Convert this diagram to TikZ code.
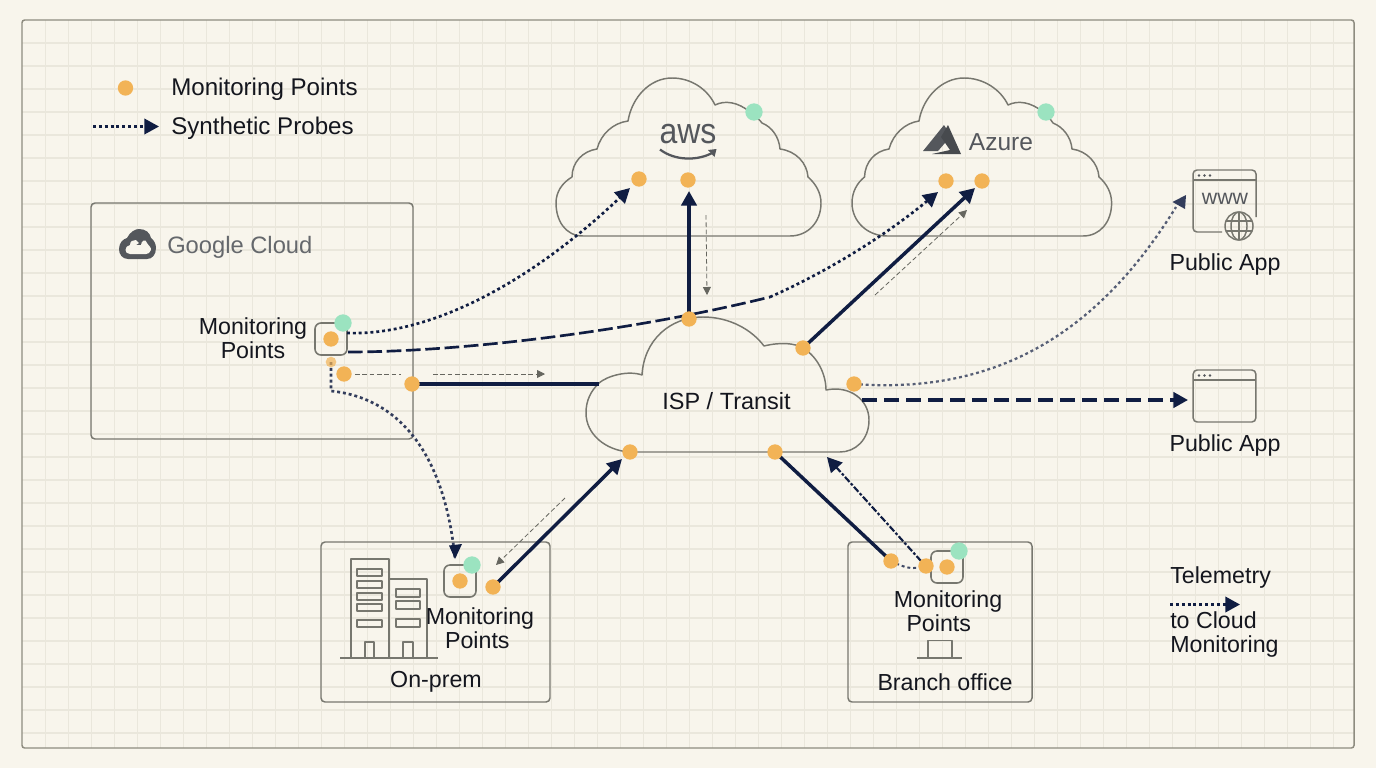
\documentclass[tikz,border=0pt]{standalone}
\usepackage{fontspec}
\usepackage{graphicx}
\setmainfont{Liberation Sans}
\usetikzlibrary{arrows.meta}
\pgfdeclarelayer{top}
\pgfsetlayers{main,top}
\definecolor{paper}{HTML}{F8F5EC}
\definecolor{gridc}{HTML}{EAE7DC}
\definecolor{framec}{HTML}{8E8C80}
\definecolor{linec}{HTML}{77776F}
\definecolor{ink}{HTML}{14161E}
\definecolor{navy}{HTML}{101D42}
\definecolor{orangec}{HTML}{F2B356}
\definecolor{mint}{HTML}{9BE3C0}
\definecolor{logoc}{HTML}{54575C}
\definecolor{thinc}{HTML}{66665F}
\tikzset{
  x=0.75pt,y=-0.75pt,
  gridline/.style={gridc,line width=0.8pt},
  outline/.style={linec,line width=1.1pt,line join=round},
  boxr/.style={outline,rounded corners=3pt},
  mon/.style={draw=linec,line width=1.2pt,rounded corners=4.5pt,minimum size=24pt,inner sep=0pt},
  dotn/.style={circle,fill=orangec,minimum size=11.5pt,inner sep=0pt},
  mintn/.style={circle,fill=mint,minimum size=13pt,inner sep=0pt},
  lab/.style={font=\fontsize{17.4}{18}\selectfont,text=ink,inner sep=0pt,align=center},
  leg/.style={font=\fontsize{18.1}{18}\selectfont,text=ink,inner sep=0pt,anchor=west},
  tipb/.style={-{Triangle[length=11pt,width=11.5pt]}},
  solidc/.style={navy,line width=2.6pt},
  dotc/.style={navy,line width=2pt,dash pattern=on 2.2pt off 2.2pt},
  dashc/.style={navy,line width=2pt,dash pattern=on 11pt off 3.5pt},
  thinc1/.style={thinc,line width=0.6pt,dash pattern=on 3.5pt off 2pt,-{Triangle[length=6pt,width=6pt]}},
}
\begin{document}
\begin{tikzpicture}
\useasboundingbox (0,0) rectangle (1376,768);
\fill[paper] (0,0) rectangle (1376,768);
% grid
\foreach \gx in {45.7,68.7,...,1350}{\draw[gridline] (\gx,20) -- (\gx,748);}
\foreach \gy in {43,66,...,745}{\draw[gridline] (22,\gy) -- (1354,\gy);}
\draw[framec,line width=1.1pt,rounded corners=2pt] (22,20) rectangle (1354,748);

% clouds
\draw[outline] (583,236) .. controls (565,236) and (556,220) .. (556,203) .. controls (556,192) and (562,183) .. (572,177)
 .. controls (572,162) and (583,151) .. (597,149) .. controls (601,134) and (613,123) .. (628,121)
 .. controls (632,97) and (650,78) .. (672,78) .. controls (692,78) and (708,90) .. (715,105)
 .. controls (725,100) and (738,102) .. (750,112) .. controls (755,116) and (760,120) .. (762,123)
 .. controls (772,127) and (779,137) .. (780,149) .. controls (796,151) and (807,163) .. (808,177)
 .. controls (816,184) and (821,193) .. (821,203) .. controls (821,222) and (808,236) .. (790,236) -- cycle;
\draw[outline] (887,236) .. controls (868,236) and (852,222) .. (852,203) .. controls (852,192) and (857,183) .. (864.5,177)
 .. controls (865,162) and (875,151) .. (889,149) .. controls (893,134) and (905,123) .. (919,121)
 .. controls (923,97) and (942,78) .. (964,78) .. controls (984,78) and (1001,90) .. (1008,105)
 .. controls (1018,100) and (1031,102) .. (1043,112) .. controls (1048,116) and (1051,120) .. (1053,123)
 .. controls (1063,127) and (1071,137) .. (1072,149) .. controls (1087,151) and (1098,163) .. (1099,177)
 .. controls (1107,184) and (1111.6,193) .. (1111.6,203) .. controls (1111.6,222) and (1100,236) .. (1083,236) -- cycle;
\draw[outline] (629,452) .. controls (605,450) and (586,434) .. (586,413) .. controls (586,400) and (591,391) .. (599,383)
 .. controls (607,376) and (628,370) .. (642,375) .. controls (644,340) and (670,317) .. (703,317)
 .. controls (730,317) and (752,330) .. (764,346) .. controls (780,342) and (795,343) .. (803,348)
 .. controls (818,357) and (826,375) .. (826,390) .. controls (850,385) and (869,400) .. (869,420)
 .. controls (869,440) and (855,452) .. (840,452) -- cycle;
\node[lab,font=\fontsize{17.6}{20}\selectfont] (isp) at (726.5,401) {ISP / Transit};

% logos
\node[inner sep=0pt,text=logoc,font=\fontsize{24}{24}\selectfont] (aws) at (688,134) {\scalebox{1}[1.12]{aws}};
\path[draw=logoc,line width=1.7pt] (660,149.5) .. controls (675,161) and (698,161) .. (713,152.5);
\fill[logoc] (708,150) -- (716.5,149) -- (714.5,157) -- cycle;
\fill[logoc] (944,125) -- (923,151) -- (938,151) -- (951,136) -- cycle;
\fill[logoc!85!black] (948,125) -- (961,154) -- (932,154) -- (950,150) -- (941,137) -- cycle;
\node[inner sep=0pt,text=logoc,font=\fontsize{18.4}{22}\selectfont] (azure) at (1001,142) {Azure};

\fill[logoc] (128,259) .. controls (122,259) and (119,254) .. (119,249) .. controls (119,243) and (123,239) .. (127,238)
  .. controls (130,232) and (135,229) .. (139,229) .. controls (146,229) and (150,233) .. (151,238)
  .. controls (154,240) and (156,244) .. (156,248) .. controls (156,255) and (152,259) .. (147,259) -- cycle;
\fill[paper] (130,254) .. controls (124,254) and (124,246) .. (130,245) .. controls (130,241) and (133,240) .. (136,240)
  -- (139,243) -- (136,245) -- (141,245) .. controls (141,241) and (146,238) .. (147,243)
  .. controls (148,245) and (152,248) .. (151,250) .. controls (150,253) and (148,254) .. (146,254) -- cycle;
\node[inner sep=0pt,text=logoc!90!white,font=\fontsize{17.8}{22}\selectfont,anchor=west] (gc) at (167,247) {Google Cloud};

% containers
\draw[boxr] (91,203) rectangle (413,439);
\draw[boxr] (321,542) rectangle (550,702);
\draw[boxr] (848,542) rectangle (1032,702);

% monitors
\node[mon] (mg) at (331,339) {};
\node[mon] (mo) at (460,581) {};
\node[mon] (mb) at (947,567) {};

% building
\draw[outline] (351,658) -- (351,559) -- (389,559) -- (389,658);
\draw[outline] (389,579) -- (427,579) -- (427,658);
\draw[outline] (340,658) -- (438,658);
\foreach \wy/\wh in {569/7,581/7,593/7,604/7,620/7}{\draw[outline] (357,\wy) rectangle (382,\wy+\wh);}
\foreach \wy/\wh in {589/8,601/8,619/8}{\draw[outline] (396,\wy) rectangle (420,\wy+\wh);}
\draw[outline] (365,658) -- (365,642) -- (374,642) -- (374,658);
\draw[outline] (403,658) -- (403,642) -- (413,642) -- (413,658);
% branch icon
\draw[outline] (928,658) -- (928,640.5) -- (952,640.5) -- (952,658);
\draw[outline] (917,658) -- (962,658);

% public app windows
\draw[outline,rounded corners=3pt] (1222,232) -- (1193,232) -- (1193,170) -- (1256,170) -- (1256,217);
\draw[outline] (1193,180) -- (1256,180);
\foreach \dx in {1199,1204.5,1210}{\fill[logoc] (\dx,175.5) circle (1.1pt);}
\node[inner sep=0pt,text=logoc,font=\fontsize{16}{16}\selectfont] (www) at (1225,199) {www};
\draw[outline] (1239,226) circle (10.5pt);
\draw[outline] (1239,226) ellipse (6pt and 10.5pt);
\draw[outline] (1239,212) -- (1239,240);
\draw[outline] (1226,221) -- (1252,221) (1226,231) -- (1252,231);
\node[draw=linec,line width=1.1pt,rounded corners=3pt,minimum width=47pt,minimum height=39pt,inner sep=0pt] (win) at (1224.5,396) {};
\draw[outline] (1193,380) -- (1256,380);
\foreach \dx in {1199,1204.5,1210}{\fill[logoc] (\dx,375.5) circle (1.1pt);}

% labels
\node[leg] (l1) at (171,89) {Monitoring Points};
\node[leg] (l2) at (171,128) {Synthetic Probes};
\node[lab] (t1) at (253,338.5) {Monitoring\\[0pt]Points};
\node[lab] (t2) at (480,628.5) {Monitoring\\[0pt]\hspace*{-4pt}Points};
\node[lab,align=left] (t3) at (948,611) {Monitoring\\[0pt]\hspace*{9.5pt}Points};
\node[lab] (t4) at (436,682) {On-prem};
\node[lab] (t5) at (945,682) {Branch office};
\node[lab] (t6) at (1225,264) {Public App};
\node[lab] (t7) at (1225,445) {Public App};
\node[lab,anchor=west] (t8) at (1170,577) {Telemetry};
\node[lab,anchor=north west,align=left] (t9) at (1170,611.5) {to Cloud\\[0pt]Monitoring};

% dots
\begin{pgfonlayer}{top}
\node[dotn] (dleg) at (125.5,88) {};
\node[dotn] (dg1) at (331,339) {};
\node[dotn,minimum size=8pt,opacity=.7] (dg2) at (331,362) {};
\node[dotn] (dg3) at (344,374) {};
\node[dotn] (dg4) at (412,384) {};
\node[mintn] (mg1) at (343,323) {};
\node[mintn] (maws) at (754,112) {};
\node[mintn] (maz) at (1046,112) {};
\node[mintn] (mo1) at (472,565) {};
\node[mintn] (mb1) at (959,551) {};
\node[dotn] (da1) at (639,179) {};
\node[dotn] (da2) at (688,180) {};
\node[dotn] (dz1) at (946,181) {};
\node[dotn] (dz2) at (982,181) {};
\node[dotn] (di1) at (689,319) {};
\node[dotn] (di2) at (803,348) {};
\node[dotn] (di3) at (854,384) {};
\node[dotn] (di4) at (630,452) {};
\node[dotn] (di5) at (775,452) {};
\node[dotn] (do1) at (460,581) {};
\node[dotn] (do2) at (493,587) {};
\node[dotn] (db1) at (891,561) {};
\node[dotn] (db2) at (926,566) {};
\node[dotn] (db3) at (947,567) {};
\end{pgfonlayer}

% free-end coordinates
\coordinate (a) at (93,126.5); \coordinate (b) at (159,126.5);
\coordinate (p1s) at (347,333); \coordinate (p1e) at (630,188);
\coordinate (p2s) at (348,352); \coordinate (p2m) at (770,297); \coordinate (p2e) at (938,192);
\coordinate (awst) at (689,191);
\coordinate (azt) at (975,188);
\coordinate (pub1) at (1186,195);
\coordinate (ispr) at (862,400);
\coordinate (pub2) at (1188,400);
\coordinate (onp) at (455,559);
\coordinate (ispb1) at (622,459);
\coordinate (ispb2) at (827,457);
\coordinate (dgb) at (331,391);
\coordinate (ta) at (1170,604.5); \coordinate (tb) at (1240,604.5);
\coordinate (ispl) at (599,384);
\coordinate (bs) at (921,561);

% legend arrows
\draw[dotc,tipb] (a) -- (b);
\draw[dotc,tipb] (ta) -- (tb);

% solid links
\draw[solidc] (dg4.center) -- (ispl);
\draw[solidc,tipb] (di1.center) -- (awst);
\draw[solidc,tipb] (di2.center) -- (azt);
\draw[solidc,tipb] (do2.center) -- (ispb1);
\draw[solidc] (di5.center) -- (db1.center);

% probes
\draw[dotc,tipb] (p1s) .. controls (430,336) and (530,283) .. (p1e);
\draw[dashc] (p2s) .. controls (450,352) and (620,334) .. (p2m);
\draw[dotc,tipb] (p2m) .. controls (820,275) and (880,240) .. (p2e);
\draw[dotc,navy!70!paper,line width=1.7pt] (di3.center) .. controls (1000,395) and (1100,330) .. (1176,207) coordinate (pub0);
\fill[navy!85!paper] (pub1) -- (1172.5,202) -- (1185,209) -- cycle;
\draw[dashc,line width=2.5pt,dash pattern=on 11.5pt off 5pt,tipb] (ispr) -- (pub2);
\draw[dotc,navy!85!paper] (dg2.center) -- (dgb) .. controls (400,398) and (445,455) .. (onp);
\fill[navy] (onp) -- (449,545.5) -- (462,544) -- cycle;
\draw[dotc,navy!80!paper,line width=1.5pt] (db1.center) .. controls (905,568) and (912,570) .. (db2.center);
\draw[navy,line width=1.6pt,dash pattern=on 5pt off 1.5pt on 2pt off 1.5pt,tipb] (bs) -- (ispb2);

% thin dashed
\coordinate (th1) at (355,374); \coordinate (th2) at (401,374);
\coordinate (th3) at (433,374); \coordinate (th4) at (545,374);
\coordinate (th5) at (706,215); \coordinate (th6) at (707,295);
\coordinate (th7) at (875,295); \coordinate (th8) at (967,210);
\coordinate (th9) at (565,498); \coordinate (th10) at (496,565);
\draw[thinc,line width=0.6pt,dash pattern=on 3.5pt off 2pt] (th1) -- (th2);
\draw[thinc1] (th3) -- (th4);
\draw[thinc1] (th5) -- (th6);
\draw[thinc1] (th7) -- (th8);
\draw[thinc1] (th9) -- (th10);
\end{tikzpicture}
\end{document}
